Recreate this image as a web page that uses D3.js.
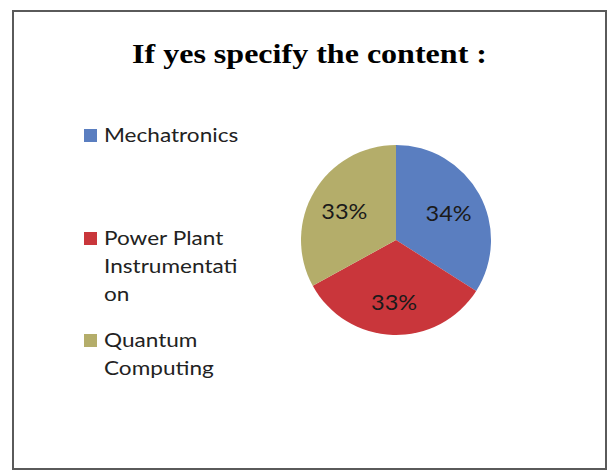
<!DOCTYPE html>
<html>
<head>
<meta charset="utf-8">
<script src="https://cdn.jsdelivr.net/npm/d3@7"></script>
<style>
  body { margin: 0; background: #fff; }
  svg { display: block; }
</style>
</head>
<body>
<div id="chart"></div>
<script>
"use strict";

// chart data
const categories = ["Mechatronics", "Power Plant Instrumentation", "Quantum Computing"];
const values = [34, 33, 33];
const labels = ["34%", "33%", "33%"];
// legend text as it wraps in the picture
const legendLines = [["Mechatronics"], ["Power Plant", "Instrumentati", "on"], ["Quantum", "Computing"]];
const colors = ["#5a7ec0", "#c9363b", "#b4ad6a"];

const width = 608, height = 471;

const svg = d3.select("#chart").append("svg")
    .attr("width", width)
    .attr("height", height);

// frame
svg.append("rect")
    .attr("x", 13).attr("y", 11)
    .attr("width", 593).attr("height", 458)
    .attr("fill", "#fff")
    .attr("stroke", "#5a5a5a")
    .attr("stroke-width", 2);

svg.append("text")
    .attr("x", 132).attr("y", 63)
    .attr("textLength", 355)
    .attr("lengthAdjust", "spacingAndGlyphs")
    .style("font-family", "'Liberation Serif', 'Times New Roman', serif")
    .style("font-weight", "bold")
    .style("font-size", "28px")
    .text("If yes specify the content :");

// pie
const cx = 396, cy = 240, r = 95;
const pie = d3.pie().sort(null).value(d => d)(values);
const arc = d3.arc().innerRadius(0).outerRadius(r);
const labelArc = d3.arc().innerRadius(0).outerRadius(120);

const g = svg.append("g").attr("transform", "translate(" + cx + "," + cy + ")");

g.selectAll("path.slice")
    .data(pie)
    .enter().append("path")
    .attr("class", "slice")
    .attr("d", arc)
    .attr("fill", (d, i) => colors[i]);

g.selectAll("text.pct")
    .data(pie)
    .enter().append("text")
    .attr("class", "pct")
    .attr("transform", d => {
        const c = labelArc.centroid(d);
        return "translate(" + c[0] + "," + (c[1] + 2) + ") scale(1.12,1)";
    })
    .attr("text-anchor", "middle")
    .attr("dy", "0.36em")
    .style("font-family", "Lato, 'Open Sans', sans-serif")
    .style("font-size", "21px")
    .style("fill", "#1a1a1a")
    .text((d, i) => labels[i]);

// legend
const legendY = [142, 245, 347];
const lineGap = 28;

const leg = svg.append("g").selectAll("g.item")
    .data(categories)
    .enter().append("g")
    .attr("class", "item");

leg.append("rect")
    .attr("x", 84)
    .attr("y", (d, i) => legendY[i] - 13)
    .attr("width", 13).attr("height", 13)
    .attr("fill", (d, i) => colors[i]);

leg.each(function(d, i) {
    const t = d3.select(this).append("text")
        .attr("transform", "translate(104,0) scale(1.13,1)")
        .style("font-family", "Lato, 'Open Sans', sans-serif")
        .style("font-size", "20px")
        .style("fill", "#222");
    legendLines[i].forEach((line, j) => {
        t.append("tspan")
            .attr("x", 0)
            .attr("y", legendY[i] + j * lineGap)
            .text(line);
    });
});
</script>
</body>
</html>
